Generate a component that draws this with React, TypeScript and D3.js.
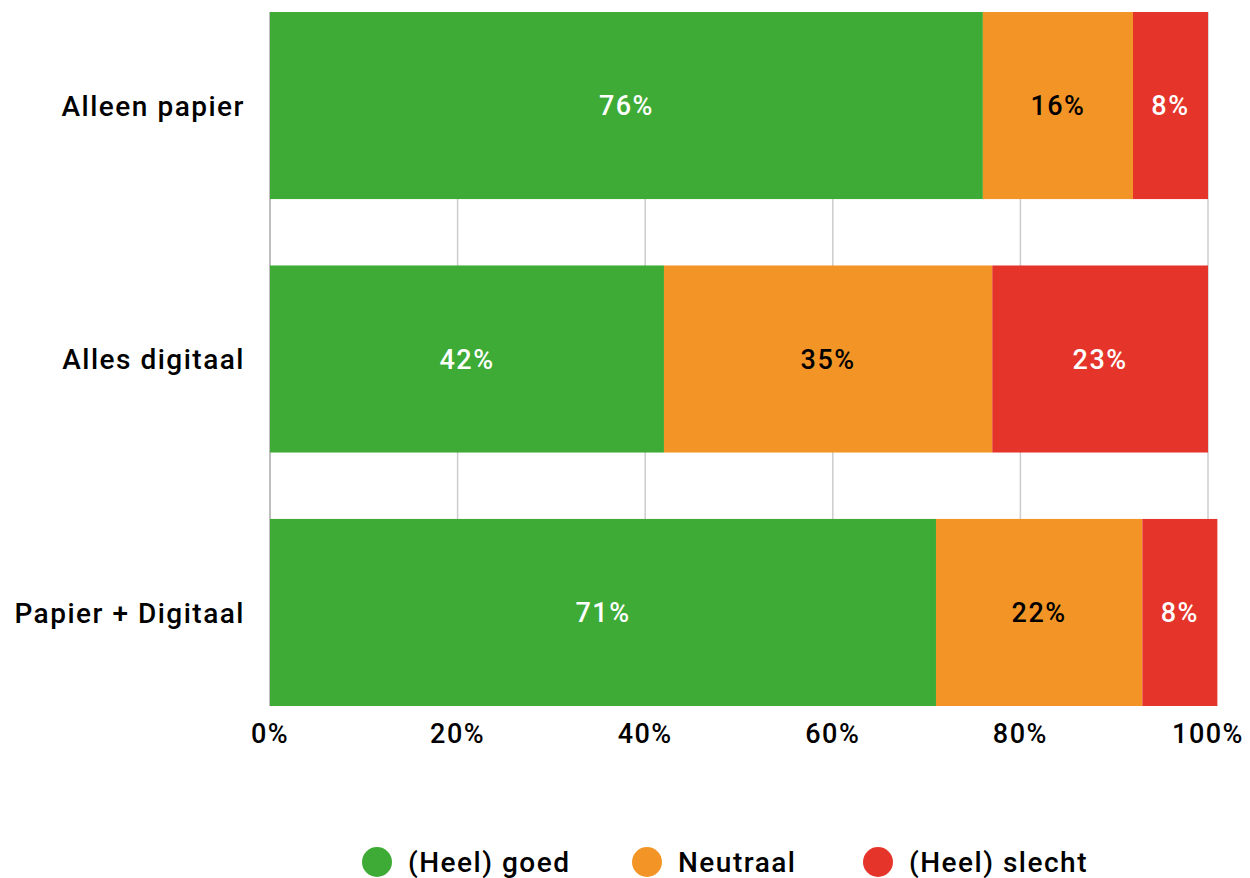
import { useEffect, useRef } from 'react';
import * as d3 from 'd3';

const CATEGORIES = ['Alleen papier', 'Alles digitaal', 'Papier + Digitaal'];
const SERIES = ['(Heel) goed', 'Neutraal', '(Heel) slecht'];
const GOED = [76, 42, 71];
const NEUTRAAL = [16, 35, 22];
const SLECHT = [8, 23, 8];
const X_TICKS = [0, 20, 40, 60, 80, 100];

const COLORS = ['#3dab35', '#f39526', '#e5352b'];
const LABEL_COLORS = ['#ffffff', '#000000', '#ffffff'];

const App = () => {
  const svgRef = useRef<SVGSVGElement>(null);

  useEffect(() => {
    if (!svgRef.current) return;
    d3.select(svgRef.current).selectAll('*').remove();

    const width = 1250;
    const height = 878;
    const font = 'Roboto, "DejaVu Sans", sans-serif';

    const svg = d3.select(svgRef.current).attr('width', width).attr('height', height);

    const x = d3.scaleLinear().domain([0, 100]).range([270, 1208]);
    const y = d3.scaleBand<string>().domain(CATEGORIES).range([12, 706]).paddingInner(0.262).paddingOuter(0);

    // Gridlines
    svg
      .append('g')
      .selectAll('line')
      .data(X_TICKS)
      .join('line')
      .attr('x1', (d) => x(d))
      .attr('x2', (d) => x(d))
      .attr('y1', 12)
      .attr('y2', 706)
      .attr('stroke', (d) => (d === 0 ? '#a8a8a8' : '#cccccc'))
      .attr('stroke-width', 1.5);

    const text = (sel: d3.Selection<SVGTextElement, any, any, any>, size: number) =>
      sel
        .attr('font-family', font)
        .attr('font-size', `${size}px`)
        .attr('font-weight', 500)
        .attr('letter-spacing', '1.5px');

    // Stacked rows
    const rows = CATEGORIES.map((c, i) => ({ cat: c, values: [GOED[i], NEUTRAAL[i], SLECHT[i]] }));

    rows.forEach((row) => {
      let acc = 0;
      row.values.forEach((v, s) => {
        const x0 = x(acc);
        const x1 = x(acc + v);
        acc += v;
        svg
          .append('rect')
          .attr('x', x0)
          .attr('y', y(row.cat)!)
          .attr('width', x1 - x0)
          .attr('height', y.bandwidth())
          .attr('fill', COLORS[s]);

        svg
          .append('text')
          .attr('x', (x0 + x1) / 2)
          .attr('y', y(row.cat)! + y.bandwidth() / 2)
          .attr('dy', '0.36em')
          .attr('text-anchor', 'middle')
          .attr('fill', LABEL_COLORS[s])
          .call(text, 27)
          .text(`${v}%`);
      });

      // Category label
      svg
        .append('text')
        .attr('x', 245)
        .attr('y', y(row.cat)! + y.bandwidth() / 2)
        .attr('dy', '0.36em')
        .attr('text-anchor', 'end')
        .attr('fill', '#000')
        .call(text, 28)
        .text(row.cat);
    });

    // X tick labels
    svg
      .append('g')
      .selectAll('text')
      .data(X_TICKS)
      .join('text')
      .attr('x', (d) => x(d))
      .attr('y', 743)
      .attr('text-anchor', 'middle')
      .attr('fill', '#000')
      .call(text, 27)
      .text((d) => `${d}%`);

    // Legend
    const legendX = [377, 647, 878];
    const legend = svg.append('g');
    SERIES.forEach((name, i) => {
      legend
        .append('circle')
        .attr('cx', legendX[i])
        .attr('cy', 862)
        .attr('r', 15)
        .attr('fill', COLORS[i]);
      legend
        .append('text')
        .attr('x', legendX[i] + 31)
        .attr('y', 862)
        .attr('dy', '0.36em')
        .attr('fill', '#000')
        .call(text, 28)
        .text(name);
    });
  }, []);

  return <svg ref={svgRef} style={{ display: 'block', position: 'absolute', left: 0, top: 0 }} />;
};

export default App;
